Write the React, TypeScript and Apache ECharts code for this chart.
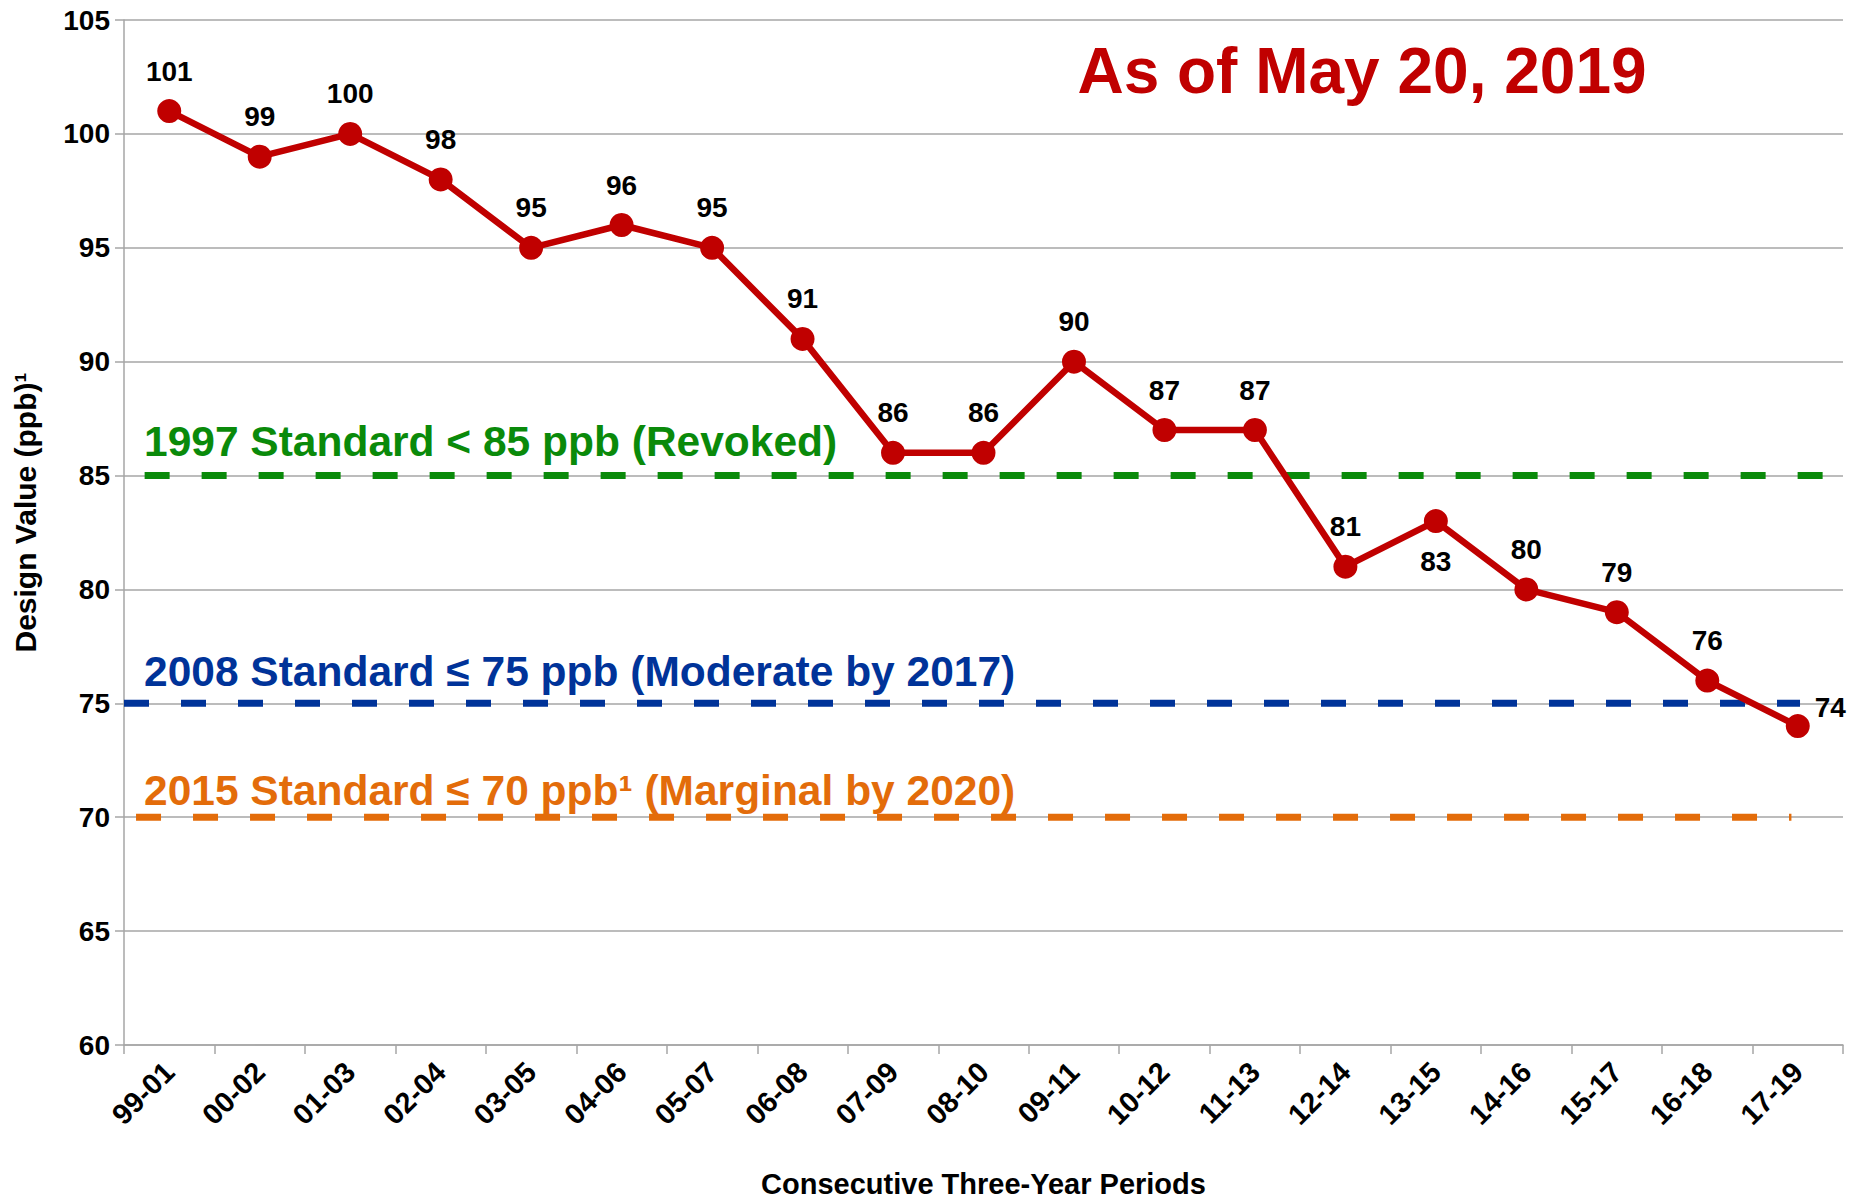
import React, { useEffect, useRef } from "react";
import * as echarts from "echarts";

const categories = [
  "99-01", "00-02", "01-03", "02-04", "03-05", "04-06", "05-07", "06-08", "07-09", "08-10",
  "09-11", "10-12", "11-13", "12-14", "13-15", "14-16", "15-17", "16-18", "17-19",
];
const designValues = [101, 99, 100, 98, 95, 96, 95, 91, 86, 86, 90, 87, 87, 81, 83, 80, 79, 76, 74];

const standardNames = [
  "1997 Standard < 85 ppb (Revoked)",
  "2008 Standard ≤ 75 ppb (Moderate by 2017)",
  "2015 Standard ≤ 70 ppb¹ (Marginal by 2020)",
];
const standardValues = [85, 75, 70];

const yTicks = { min: 60, max: 105, interval: 5 };
const titleText = "As of May 20, 2019";
const xAxisTitle = "Consecutive Three-Year Periods";
const yAxisTitle = "Design Value (ppb)¹";

const FONT = "'Liberation Sans', Arial, sans-serif";

export default function App() {
  const ref = useRef<HTMLDivElement>(null);

  useEffect(() => {
    document.body.style.margin = "0";
    if (!ref.current) return;
    const chart = echarts.init(ref.current, undefined, { renderer: "svg" });

    const stdColors = ["#0A8A0A", "#003399", "#E36C0A"];
    const stdExtents = [
      [0.012, 0.998],
      [0.0, 0.975],
      [0.007, 0.97],
    ];
    const stdTextY = [441, 671, 790];

    const pointData = designValues.map((v, i) => {
      const d: any = { value: v };
      if (i === 14) {
        d.label = { position: "bottom", distance: 14 };
      } else if (i === designValues.length - 1) {
        d.label = { position: "right", distance: 5, offset: [0, -19] };
      }
      return d;
    });

    const stdSeries = standardValues.map((v, i) => ({
      type: "line",
      name: standardNames[i],
      xAxisIndex: 1,
      yAxisIndex: 0,
      silent: true,
      symbol: "none",
      z: 1,
      data: [
        [stdExtents[i][0], v],
        [stdExtents[i][1], v],
      ],
      lineStyle: { color: stdColors[i], width: 7, type: [25, 32] },
    }));

    const option: any = {
      animation: false,
      backgroundColor: "#ffffff",
      textStyle: { fontFamily: FONT },
      grid: { left: 124, right: 6, top: 20, bottom: 155, containLabel: false, outerBoundsMode: "none" },
      xAxis: [
        {
          type: "category",
          data: categories,
          boundaryGap: true,
          axisLine: { show: true, lineStyle: { color: "#A6A6A6", width: 1.5 } },
          axisTick: { show: true, length: 9, alignWithLabel: false, lineStyle: { color: "#A6A6A6", width: 1.5 } },
          axisLabel: {
            rotate: 45,
            margin: 22,
            color: "#000",
            fontSize: 29,
            fontWeight: "bold",
            fontFamily: FONT,
            interval: 0,
          },
          splitLine: { show: false },
          name: xAxisTitle,
          nameLocation: "middle",
          nameGap: 124,
          nameTextStyle: { color: "#000", fontSize: 29, fontWeight: "bold", fontFamily: FONT },
        },
        { type: "value", min: 0, max: 1, show: false, gridIndex: 0 },
      ],
      yAxis: {
        type: "value",
        min: yTicks.min,
        max: yTicks.max,
        interval: yTicks.interval,
        axisLine: { show: true, lineStyle: { color: "#A6A6A6", width: 1.5 } },
        axisTick: { show: true, length: 9, lineStyle: { color: "#A6A6A6", width: 1.5 } },
        axisLabel: { color: "#000", fontSize: 28, fontWeight: "bold", fontFamily: FONT, margin: 14 },
        splitLine: { show: true, lineStyle: { color: "#A6A6A6", width: 1.5 } },
        name: yAxisTitle,
        nameLocation: "middle",
        nameGap: 84,
        nameTextStyle: {
          color: "#000",
          fontSize: 30,
          fontWeight: "bold",
          fontFamily: FONT,
          padding: [0, 0, 0, 40],
        },
      },
      series: [
        ...stdSeries,
        {
          type: "line",
          name: "Design Value",
          data: pointData,
          z: 5,
          symbol: "circle",
          symbolSize: 24,
          itemStyle: { color: "#C00000" },
          lineStyle: { color: "#C00000", width: 6.5 },
          label: {
            show: true,
            position: "top",
            distance: 14,
            color: "#000",
            fontSize: 28,
            fontWeight: "bold",
            fontFamily: FONT,
          },
        },
      ],
      graphic: [
        {
          type: "text",
          x: 1362,
          y: 71,
          style: {
            text: titleText,
            fill: "#C00000",
            font: `bold 64px ${FONT}`,
            textAlign: "center",
            textVerticalAlign: "middle",
          },
        },
        ...standardNames.map((t, i) => ({
          type: "text",
          x: 144,
          y: stdTextY[i],
          z: 10,
          style: {
            text: t,
            fill: stdColors[i],
            font: `bold 42.5px ${FONT}`,
            textAlign: "left",
            textVerticalAlign: "middle",
          },
        })),
      ],
    };

    chart.setOption(option);
    return () => chart.dispose();
  }, []);

  return <div ref={ref} style={{ width: 1849, height: 1200 }} />;
}
